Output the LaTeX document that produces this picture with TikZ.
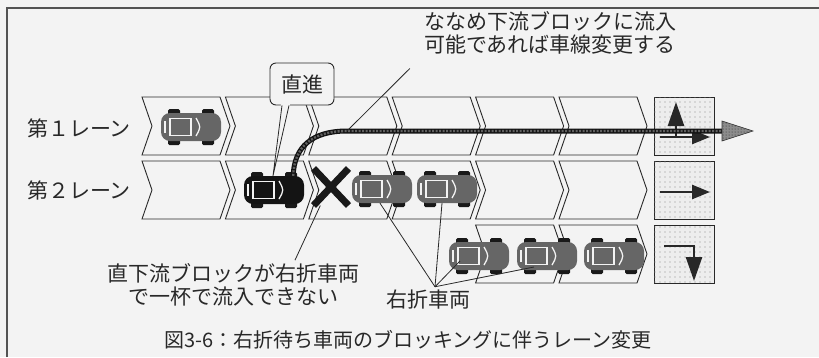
\documentclass[tikz,border=0pt]{standalone}
\usepackage{fontspec}
\newfontfamily\jp{Noto Sans CJK JP}
\usetikzlibrary{arrows.meta,patterns.meta,shapes.misc}

\definecolor{paper}{RGB}{243,243,243}
\definecolor{ink}{RGB}{40,40,40}

\tikzset{
  car fill/.store in=\carfill, car fill=black!60,
  carbody/.style={rectangle, rounded corners=9pt, minimum width=60pt,
    minimum height=28pt, inner sep=0pt, fill=\carfill},
  % top view of a car heading right
  car/.pic={
    \foreach \wx in {-17,17}
      \foreach \wy in {-14,14}
        \fill[black!90, rounded corners=1.5pt] (\wx-6,\wy-4) rectangle (\wx+6,\wy+4);
    \node[carbody] (-body) at (0,0) {};
    \draw[paper, line width=1.3pt] (-21,-8.5) rectangle (0,8.5);
    \draw[paper, line width=1.3pt] (5,-9) .. controls (10,0) .. (5,9);
    \draw[paper, line width=1.3pt] (-26,-6) -- (-26,6);
  },
  lane/.style={draw=ink, line width=0.9pt},
  signal/.style={draw=ink, line width=0.9pt, minimum width=60pt, minimum height=58pt,
    inner sep=0pt, fill=gray!14,
    postaction={pattern={Dots[distance=5pt,radius=0.55pt]}, pattern color=gray!90}},
  sigarrow/.style={draw=ink, line width=2.6pt, -{Triangle[length=18pt,width=14pt]}},
  turnarrow/.style={draw=ink, line width=2.6pt, -{Triangle[length=24pt,width=16pt]}},
  chain/.style={line width=5pt, draw=gray!15!black,
    postaction={draw=gray!75!black, line width=2.4pt, dash pattern=on 2pt off 1.5pt}},
  blocked/.style={cross out, draw=black!90, line width=7pt, minimum width=28pt,
    minimum height=30pt, inner sep=0pt},
  leader/.style={draw=ink, line width=0.8pt},
  callout/.style={draw=ink, line width=0.9pt, fill=paper, rounded corners=6pt,
    minimum width=64pt, minimum height=42pt, inner sep=2pt},
}

\begin{document}
\begin{tikzpicture}[x=1pt, y=-1pt, font=\jp\fontsize{21}{23}\selectfont, text=ink]
\useasboundingbox (0,0) rectangle (819,357);
\fill[paper] (0,0) rectangle (819,357);
\draw[ink!80, line width=1.2pt] (7,357) -- (7,8) -- (819,8);

% lane blocks
\foreach \t/\ks in {97/{0,1,2,3,4,5}, 161/{0,1,2,3,4,5}, 225/{4,5}}
  \foreach \k in \ks
    \draw[lane] ({142+83.4*\k},\t) -- ++(78,0) -- ++(10,29) -- ++(-10,29)
      -- ++(-78,0) -- ++(10,-29) -- cycle;

% signals at the stop line
\node[signal] (sig1) at (684,126) {};
\node[signal] (sig2) at (684,190) {};
\node[signal] (sig3) at (684,254) {};
\draw[sigarrow] (660,137) -- (710,137);
\draw[turnarrow] (676,137) -- (676,102);
\draw[sigarrow] (660,192) -- (710,192);
\draw[turnarrow] (664,246) -- (694,246) -- (694,281);

% vehicles
\pic (c1) at (191,127) {car};
\pic[car fill=black!92] (dk) at (274,190) {car};
\pic (c2) at (382,189) {car};
\pic (c3) at (447,189) {car};
\pic (c4) at (479,256) {car};
\pic (c5) at (547,256) {car};
\pic (c6) at (614,256) {car};
\node[blocked] (block) at (331,187) {};

% lane change path
\coordinate (bend) at (347,131);
\coordinate (exit) at (724,131);
\draw[chain] ([xshift=-11pt]dk-body.north east) .. controls (294,147) and (312,131) .. (bend) -- (exit);
\filldraw[fill=gray!90, draw=gray!40!black, line width=0.6pt,
  postaction={pattern={Dots[distance=3pt,radius=0.5pt]}, pattern color=gray!30!black}]
  (722,121) -- (753,131) -- (722,141) -- cycle;

% labels
\node (lane1) at (79,128) {第１レーン};
\node (lane2) at (79,190) {第２レーン};
\node[align=center] (merge) at (550,33) {ななめ下流ブロックに流入\\可能であれば車線変更する};
\node[align=center] (stuck) at (233,285) {直下流ブロックが右折車両\\で一杯で流入できない};
\node (rt) at (428,300) {右折車両};
\node[font=\jp\fontsize{20}{24}\selectfont] (cap) at (408,340)
  {図3-6：右折待ち車両のブロッキングに伴うレーン変更};

\draw[leader, shorten <=15pt] (merge.south west) -- (bend);
\draw[leader] ([xshift=62pt]stuck.north) -- (block.240);
\coordinate (rtTip) at ([xshift=7pt]rt.north);
\draw[leader] (rtTip) -- ([xshift=-2pt]c2-body.south);
\draw[leader] (rtTip) -- ([xshift=-5pt]c3-body.south);
\draw[leader] (rtTip) -- ([shift={(-19,5)}]c4-body.center);
\draw[leader] (rtTip) -- ([shift={(-13,11)}]c5-body.center);

% speech box for the straight-ahead car
\node[callout] (straight) at (302,84) {直進};
\coordinate (tip) at ([xshift=-1pt]dk-body.north);
\fill[paper] ([shift={(-21,-1.5)}]straight.south) -- (tip) -- ([shift={(-12,-1.5)}]straight.south) -- cycle;
\draw[leader] ([xshift=-20pt]straight.south) -- (tip) -- ([xshift=-13pt]straight.south);
\end{tikzpicture}
\end{document}
